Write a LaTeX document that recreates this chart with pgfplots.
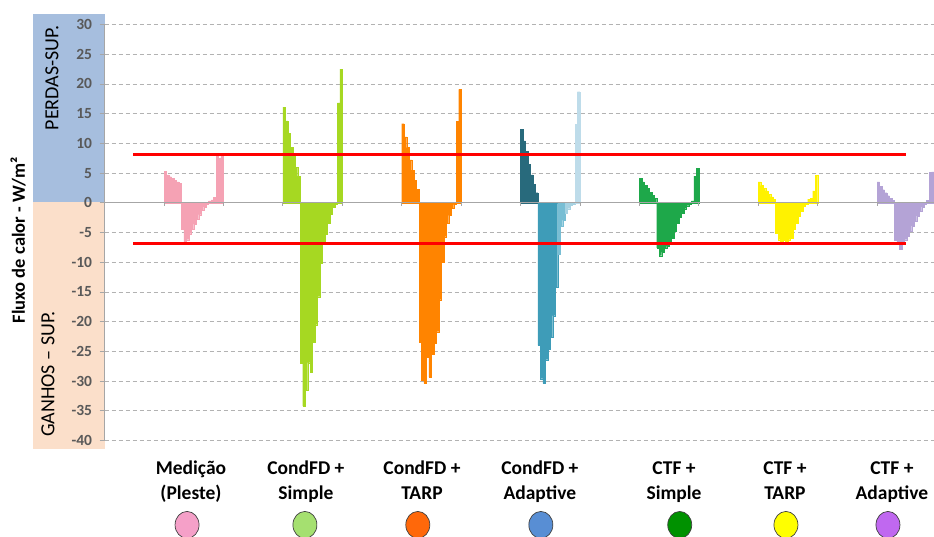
\documentclass[border=0pt]{standalone}
\usepackage{fontspec}
\setmainfont{Carlito}
\usepackage{pgfplots}
\pgfplotsset{compat=1.18}
\definecolor{bluebox}{RGB}{166,190,222}
\definecolor{peachbox}{RGB}{251,223,202}
\definecolor{ticklab}{RGB}{89,89,89}
\definecolor{cMed}{RGB}{245,162,180}
\definecolor{cG2}{RGB}{166,216,34}
\definecolor{cG3}{RGB}{255,132,0}
\definecolor{cG4d}{RGB}{40,106,124}
\definecolor{cG4a}{RGB}{62,156,184}
\definecolor{cG4b}{RGB}{120,190,212}
\definecolor{cG4c}{RGB}{166,210,226}
\definecolor{cG4l}{RGB}{190,220,234}
\definecolor{cG5}{RGB}{30,168,74}
\definecolor{cG6}{RGB}{255,242,0}
\definecolor{cG7}{RGB}{180,163,214}
\definecolor{k1}{RGB}{245,160,200}
\definecolor{k2}{RGB}{165,224,112}
\definecolor{k3}{RGB}{255,104,10}
\definecolor{k4}{RGB}{88,142,212}
\definecolor{k5}{RGB}{0,145,0}
\definecolor{k6}{RGB}{255,255,0}
\definecolor{k7}{RGB}{192,104,240}
\newcommand{\catfont}{\fontsize{19.5}{23}\selectfont\bfseries}
\begin{document}
\begin{tikzpicture}[x=1pt,y=1pt]
\useasboundingbox (0,0) rectangle (934,537);
\fill[bluebox] (33,334.5) rectangle (104.6,523);
\fill[peachbox] (33,88) rectangle (104.6,334.5);
\node[rotate=90, font=\fontsize{20}{24}\selectfont] at (52,459) {PERDAS-SUP.};
\node[rotate=90, font=\fontsize{20}{24}\selectfont] at (48,163) {GANHOS – SUP.};
\node[rotate=90, font=\fontsize{18.5}{22}\selectfont\bfseries] at (18,297) {Fluxo de calor - W/m²};
\begin{axis}[
  at={(104.6pt,96.5pt)}, anchor=south west,
  scale only axis, width=829.4pt, height=416pt,
  xmin=0, xmax=335, ymin=-40, ymax=30,
  clip=false,
  axis x line=none, axis y line=left,
  y axis line style={-, gray!70, line width=0.8pt},
  ytick={-40,-35,...,30},
  tick align=outside, major tick length=5pt,
  y tick style={gray!70, line width=0.8pt},
  ymajorgrids,
  grid style={gray!60, line width=0.8pt, dash pattern=on 4pt off 3pt},
  /pgf/number format/assume math mode=true,
  yticklabel style={font=\fontsize{15.5}{17}\selectfont\bfseries, color=ticklab, xshift=-4pt},
]
% Medicao
\addplot[ybar, bar width=1, bar shift=0pt, fill=cMed, draw=cMed, line width=0.2pt] coordinates {(24.5,5.3) (25.5,4.7) (26.5,4.4) (27.5,4.1) (28.5,3.8) (29.5,3.5) (30.5,3.3) (31.5,-4.5) (32.5,-6.6) (33.5,-6.2) (34.5,-5.2) (35.5,-4.4) (36.5,-3.6) (37.5,-2.8) (38.5,-2.0) (39.5,-1.3) (40.5,-0.7) (41.5,-0.2) (42.5,0.3) (43.5,0.5) (44.5,0.9) (45.5,8.0) (46.5,7.5) (47.5,7.8)};
% CondFD + Simple
\addplot[ybar, bar width=1, bar shift=0pt, fill=cG2, draw=cG2, line width=0.2pt] coordinates {(72.5,16.1) (73.5,13.8) (74.5,11.7) (75.5,9.3) (76.5,7.8) (77.5,6.0) (78.5,4.5) (79.5,-27.0) (80.5,-34.2) (81.5,-31.6) (82.5,-26.9) (83.5,-28.5) (84.5,-23.5) (85.5,-20.5) (86.5,-15.8) (87.5,-10.2) (88.5,-6.7) (89.5,-5.3) (90.5,-3.4) (91.5,-1.9) (92.5,-0.8) (93.5,-0.3) (94.5,16.8) (95.5,22.5)};
% CondFD + TARP
\addplot[ybar, bar width=1, bar shift=0pt, fill=cG3, draw=cG3, line width=0.2pt] coordinates {(120.5,13.3) (121.5,11.1) (122.5,9.3) (123.5,7.2) (124.5,5.5) (125.5,3.8) (126.5,2.3) (127.5,-23.4) (128.5,-29.9) (129.5,-30.4) (130.5,-26.0) (131.5,-29.3) (132.5,-25.5) (133.5,-23.6) (134.5,-21.7) (135.5,-16.3) (136.5,-10.0) (137.5,-5.7) (138.5,-3.5) (139.5,-2.1) (140.5,-0.9) (141.5,-0.3) (142.5,13.7) (143.5,19.1)};
% CondFD + Adaptive
\addplot[ybar, bar width=1, bar shift=0pt, fill=cG4d, draw=cG4d, line width=0.2pt] coordinates {(168.5,12.4) (169.5,10.4) (170.5,8.7) (171.5,6.5) (172.5,4.7) (173.5,3.1) (174.5,1.7)};
\addplot[ybar, bar width=1, bar shift=0pt, fill=cG4a, draw=cG4a, line width=0.2pt] coordinates {(175.5,-24.0) (176.5,-29.6) (177.5,-30.4) (178.5,-26.4) (179.5,-24.7) (180.5,-22.6) (181.5,-19.0) (182.5,-14.2)};
\addplot[ybar, bar width=1, bar shift=0pt, fill=cG4b, draw=cG4b, line width=0.2pt] coordinates {(183.5,-8.7) (184.5,-4.0) (185.5,-2.9)};
\addplot[ybar, bar width=1, bar shift=0pt, fill=cG4c, draw=cG4c, line width=0.2pt] coordinates {(186.5,-1.8) (187.5,-1.0) (188.5,-0.4) (189.5,-0.2)};
\addplot[ybar, bar width=1, bar shift=0pt, fill=cG4l, draw=cG4l, line width=0.2pt] coordinates {(190.5,13.2) (191.5,18.7)};
% CTF + Simple
\addplot[ybar, bar width=1, bar shift=0pt, fill=cG5, draw=cG5, line width=0.2pt] coordinates {(216.5,4.1) (217.5,3.5) (218.5,2.9) (219.5,2.4) (220.5,1.8) (221.5,1.3) (222.5,0.8) (223.5,-7.6) (224.5,-8.9) (225.5,-8.3) (226.5,-7.6) (227.5,-7.3) (228.5,-6.7) (229.5,-5.9) (230.5,-4.8) (231.5,-3.4) (232.5,-2.4) (233.5,-1.7) (234.5,-1.0) (235.5,-0.5) (236.5,-0.2) (237.5,0.3) (238.5,4.5) (239.5,5.8)};
% CTF + TARP
\addplot[ybar, bar width=1, bar shift=0pt, fill=cG6, draw=cG6, line width=0.2pt] coordinates {(264.5,3.5) (265.5,2.9) (266.5,2.4) (267.5,2.0) (268.5,1.4) (269.5,1.0) (270.5,0.6) (271.5,-5.1) (272.5,-6.2) (273.5,-6.6) (274.5,-6.3) (275.5,-6.6) (276.5,-6.2) (277.5,-5.9) (278.5,-4.5) (279.5,-3.4) (280.5,-2.2) (281.5,-1.4) (282.5,-0.6) (283.5,-0.2) (284.5,0.6) (285.5,0.8) (286.5,2.0) (287.5,4.6)};
% CTF + Adaptive
\addplot[ybar, bar width=1, bar shift=0pt, fill=cG7, draw=cG7, line width=0.2pt] coordinates {(312.5,3.5) (313.5,2.8) (314.5,2.2) (315.5,1.7) (316.5,1.2) (317.5,0.8) (318.5,0.45) (319.5,-6.3) (320.5,-6.6) (321.5,-7.8) (322.5,-6.5) (323.5,-6.2) (324.5,-5.6) (325.5,-4.8) (326.5,-3.9) (327.5,-3.1) (328.5,-2.2) (329.5,-1.4) (330.5,-0.7) (331.5,-0.3) (332.5,0.4) (333.5,5.1) (334.5,5.2)};
% zero line and group ticks
\addplot[gray!70, line width=0.8pt] coordinates {(0,0) (335,0)};
\addplot[ycomb, gray!70, line width=0.8pt, mark=none] coordinates {(24,-0.55) (48,-0.55) (72,-0.55) (96,-0.55) (120,-0.55) (144,-0.55) (168,-0.55) (192,-0.55) (216,-0.55) (240,-0.55) (264,-0.55) (288,-0.55) (312,-0.55)};
% red limit lines
\addplot[red, line width=3pt] coordinates {(11.5,8.1) (323.5,8.1)};
\addplot[red, line width=3pt] coordinates {(11.5,-6.8) (323.5,-6.8)};
% legend circles
\addplot[only marks, mark=*, mark size=12pt, mark options={fill=k1, draw=black!75, line width=0.7pt, yscale=1.12}] coordinates {(33.3,-54.2)};
\addplot[only marks, mark=*, mark size=12pt, mark options={fill=k2, draw=black!75, line width=0.7pt, yscale=1.12}] coordinates {(80.9,-54.2)};
\addplot[only marks, mark=*, mark size=12pt, mark options={fill=k3, draw=black!75, line width=0.7pt, yscale=1.12}] coordinates {(126.5,-54.2)};
\addplot[only marks, mark=*, mark size=12pt, mark options={fill=k4, draw=black!75, line width=0.7pt, yscale=1.12}] coordinates {(176.2,-54.2)};
\addplot[only marks, mark=*, mark size=12pt, mark options={fill=k5, draw=black!75, line width=0.7pt, yscale=1.12}] coordinates {(232.3,-54.2)};
\addplot[only marks, mark=*, mark size=12pt, mark options={fill=k6, draw=black!75, line width=0.7pt, yscale=1.12}] coordinates {(275.2,-54.2)};
\addplot[only marks, mark=*, mark size=12pt, mark options={fill=k7, draw=black!75, line width=0.7pt, yscale=1.12}] coordinates {(316.4,-54.2)};
% category labels
\node[font=\catfont, anchor=base] at (axis cs:34.9,-45.7) {Medição};
\node[font=\catfont, anchor=base] at (axis cs:34.9,-49.9) {(Pleste)};
\node[font=\catfont, anchor=base] at (axis cs:81.3,-45.7) {CondFD +};
\node[font=\catfont, anchor=base] at (axis cs:81.3,-49.9) {Simple};
\node[font=\catfont, anchor=base] at (axis cs:128.2,-45.7) {CondFD +};
\node[font=\catfont, anchor=base] at (axis cs:128.2,-49.9) {TARP};
\node[font=\catfont, anchor=base] at (axis cs:175.8,-45.7) {CondFD +};
\node[font=\catfont, anchor=base] at (axis cs:175.8,-49.9) {Adaptive};
\node[font=\catfont, anchor=base] at (axis cs:230.0,-45.7) {CTF +};
\node[font=\catfont, anchor=base] at (axis cs:230.0,-49.9) {Simple};
\node[font=\catfont, anchor=base] at (axis cs:274.8,-45.7) {CTF +};
\node[font=\catfont, anchor=base] at (axis cs:274.8,-49.9) {TARP};
\node[font=\catfont, anchor=base] at (axis cs:318.0,-45.7) {CTF +};
\node[font=\catfont, anchor=base] at (axis cs:318.0,-49.9) {Adaptive};
\end{axis}
\end{tikzpicture}
\end{document}
